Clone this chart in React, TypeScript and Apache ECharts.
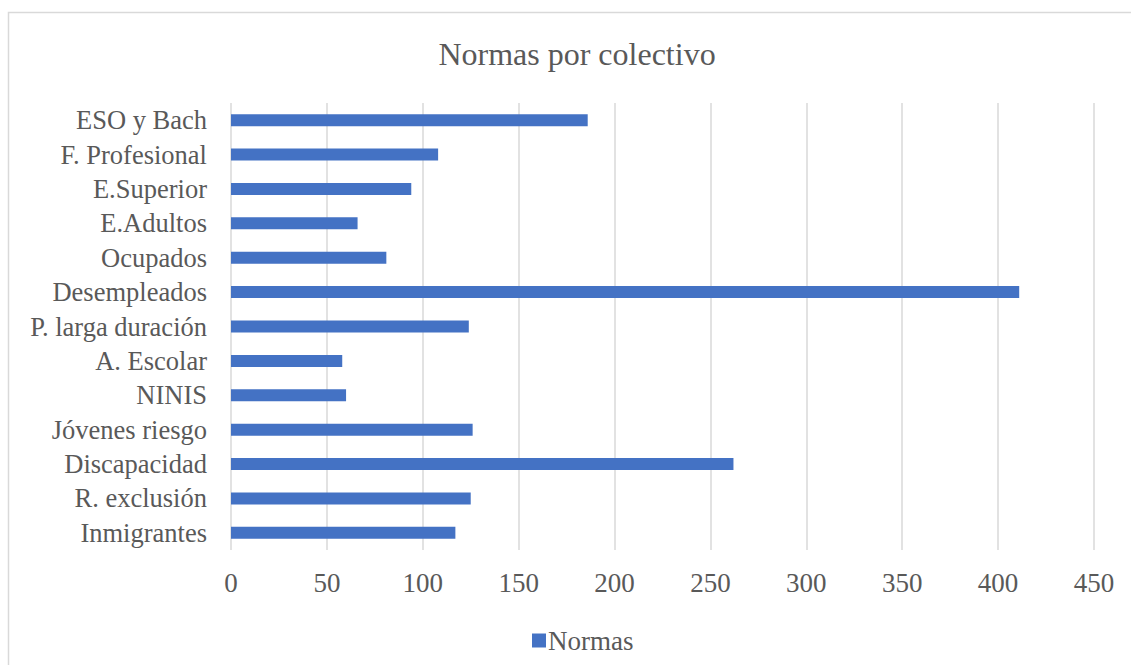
import React, { useEffect, useRef } from "react";
import * as echarts from "echarts";

const categories = [
  "ESO y Bach",
  "F. Profesional",
  "E.Superior",
  "E.Adultos",
  "Ocupados",
  "Desempleados",
  "P. larga duración",
  "A. Escolar",
  "NINIS",
  "Jóvenes riesgo",
  "Discapacidad",
  "R. exclusión",
  "Inmigrantes",
];
const normas = [186, 108, 94, 66, 81, 411, 124, 58, 60, 126, 262, 125, 117];
const seriesName = "Normas";
const title = "Normas por colectivo";

export default function App() {
  const ref = useRef<HTMLDivElement>(null);
  useEffect(() => {
    if (!ref.current) return;
    const chart = echarts.init(ref.current, null, { renderer: "svg" });
    const font = "'Liberation Serif', 'Times New Roman', serif";
    chart.setOption({
      animation: false,
      backgroundColor: "#ffffff",
      textStyle: { fontFamily: font },
      title: {
        text: title,
        left: 572,
        top: 33,
        textAlign: "center",
        textStyle: { fontFamily: font, fontSize: 32, fontWeight: "normal", color: "#595959" },
      },
      legend: {
        data: [seriesName],
        left: 527,
        top: 622,
        itemWidth: 14,
        itemHeight: 14,
        itemGap: 6,
        icon: "rect",
        textStyle: { fontFamily: font, fontSize: 27, color: "#595959", padding: [0, 0, 0, -3] },
      },
      graphic: [
        {
          type: "rect",
          shape: { x: 8.5, y: 12.5, width: 1200, height: 700 },
          style: { fill: "none", stroke: "#d9d9d9", lineWidth: 1.5 },
          silent: true,
        },
      ],
      grid: { left: 231, right: 37, top: 103, bottom: 115 },
      xAxis: {
        type: "value",
        min: 0,
        max: 450,
        interval: 50,
        axisLine: { show: false },
        axisTick: { show: false },
        axisLabel: { fontFamily: font, fontSize: 27, color: "#595959", margin: 19 },
        splitLine: { lineStyle: { color: "#d9d9d9", width: 1.5 } },
      },
      yAxis: {
        type: "category",
        data: categories,
        inverse: true,
        axisLine: { show: false },
        axisTick: { show: false },
        axisLabel: {
          interval: 0,
          hideOverlap: false,
          fontFamily: font,
          fontSize: 26.5,
          color: "#595959",
          margin: 24,
        },
        splitLine: { show: false },
      },
      series: [
        {
          name: seriesName,
          type: "bar",
          data: normas,
          barWidth: 12,
          itemStyle: { color: "#4472C4" },
        },
      ],
    });
    return () => chart.dispose();
  }, []);
  return (
    <div
      ref={ref}
      style={{ position: "absolute", left: 0, top: 0, width: 1131, height: 665 }}
    />
  );
}
